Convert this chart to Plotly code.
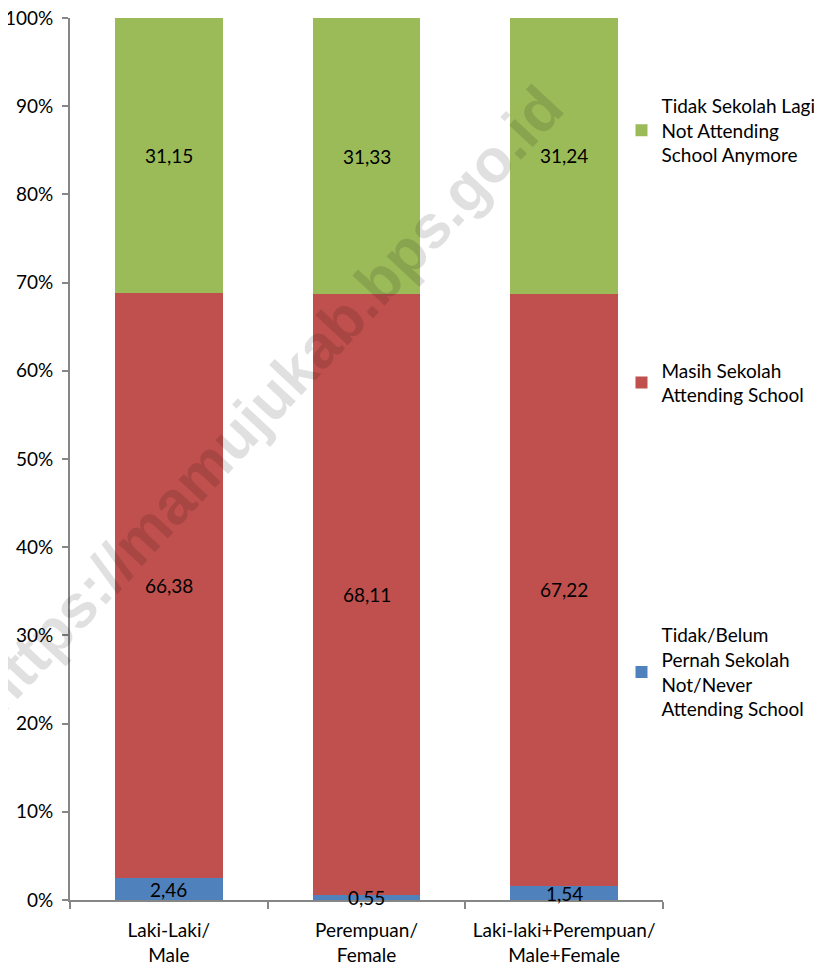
import plotly.graph_objects as go

categories = ["Laki-Laki/<br>Male", "Perempuan/<br>Female", "Laki-laki+Perempuan/<br>Male+Female"]
never_attending = [2.46, 0.55, 1.54]
attending = [66.38, 68.11, 67.22]
not_anymore = [31.15, 31.33, 31.24]
series_names = [
    "Tidak/Belum<br>Pernah Sekolah<br>Not/Never<br>Attending School",
    "Masih Sekolah<br>Attending School",
    "Tidak Sekolah Lagi<br>Not Attending<br>School Anymore",
]
colors = ["#4F81BD", "#C0504D", "#9BBB59"]
y_ticks = [0, 10, 20, 30, 40, 50, 60, 70, 80, 90, 100]
y_tick_labels = [f"{t}%" for t in y_ticks]

FONT = "Lato, 'Open Sans', sans-serif"
FS = 19
series = [never_attending, attending, not_anymore]
legends = ["legend3", "legend2", "legend"]

fig = go.Figure()
for vals, name, col, lg in zip(series, series_names, colors, legends):
    fig.add_trace(go.Bar(
        x=categories, y=vals, name=name, legend=lg,
        marker=dict(color=col, line=dict(width=0)),
    ))

annotations = [dict(
    text="<b>https://mamujukab.bps.go.id</b>", xref="paper", yref="paper",
    x=0.334, y=0.567, textangle=-47, showarrow=False,
    font=dict(family="Arial, Liberation Sans, sans-serif", size=61, color="rgba(0,0,0,0.12)"),
)]
for i, cat in enumerate(categories):
    base = 0.0
    for vals in series:
        v = vals[i]
        annotations.append(dict(
            x=cat, y=base + v / 2, xref="x", yref="y",
            text=f"{v:.2f}".replace(".", ","), showarrow=False,
            font=dict(family=FONT, size=FS, color="#000000"),
        ))
        base += v

leg_common = dict(font=dict(family=FONT, size=FS, color="#000000"),
                  bgcolor="rgba(0,0,0,0)", xanchor="left", yanchor="top",
                  x=0.930, itemclick=False)

# page body has an 8px margin: figure is sized/offset to compensate
fig.update_layout(
    barmode="stack",
    bargap=0.454,
    width=814, height=954,
    margin=dict(l=62, r=159, t=10, b=62, autoexpand=False),
    plot_bgcolor="white", paper_bgcolor="white",
    font=dict(family=FONT, size=FS, color="#000000"),
    xaxis=dict(
        showline=True, linecolor="#868686", linewidth=2,
        ticks="outside", tickson="boundaries", ticklen=7, tickcolor="#868686", tickwidth=2,
        tickfont=dict(family=FONT, size=FS, color="#000000"),
        showgrid=False, automargin=False, ticklabelstandoff=12,
        ticklabeloverflow="allow",
    ),
    yaxis=dict(
        range=[0, 100], tickmode="array", tickvals=y_ticks, ticktext=y_tick_labels,
        showline=True, linecolor="#868686", linewidth=2,
        ticks="outside", ticklen=6, tickcolor="#868686", tickwidth=2,
        tickfont=dict(family=FONT, size=FS, color="#000000"),
        showgrid=False, zeroline=False, automargin=False, ticklabelstandoff=5,
        ticklabeloverflow="allow",
    ),
    legend=dict(y=0.922, **leg_common),
    legend2=dict(y=0.622, **leg_common),
    legend3=dict(y=0.322, **leg_common),
    annotations=annotations,
    showlegend=True,
)

fig.write_html("out.html")
